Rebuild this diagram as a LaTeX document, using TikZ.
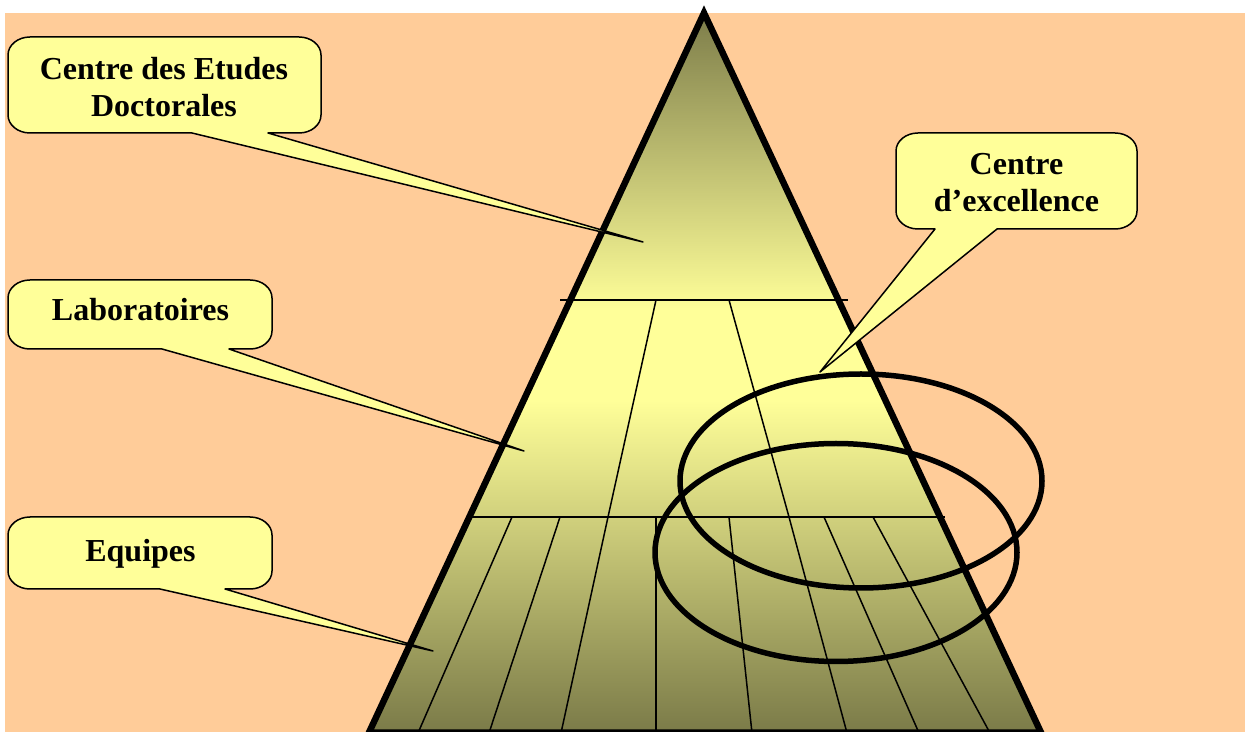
\documentclass[tikz,border=0pt]{standalone}
\usepackage{fontspec}
\setmainfont{Liberation Serif}
\definecolor{peach}{RGB}{255,204,153}
\definecolor{pyrdark}{RGB}{122,122,72}
\definecolor{pyrlight}{RGB}{255,255,153}
\definecolor{callfill}{RGB}{255,255,153}
\tikzset{
  callbox/.style={draw=black, line width=1.5pt, fill=callfill, line join=round},
  lbl/.style={font=\fontsize{32}{37}\selectfont\bfseries, align=center, inner sep=0pt},
  pyredge/.style={line width=6.5pt, line join=miter},
  divline/.style={line width=1.5pt},
  ring/.style={line width=5.5pt},
}
% #1 left x, #2 bottom y, #3 right x, #4 top y, #5 tail left x, #6 tail right x, #7 tip
\newcommand\callshape[7]{%
  \draw[callbox] (#5,#2) -- (#7) -- (#6,#2) -- ({#3-22},#2)
    arc[start angle=-90,end angle=0,x radius=22pt,y radius=18pt] -- (#3,{#4-18})
    arc[start angle=0,end angle=90,x radius=22pt,y radius=18pt] -- ({#1+22},#4)
    arc[start angle=90,end angle=180,x radius=22pt,y radius=18pt] -- (#1,{#2+18})
    arc[start angle=180,end angle=270,x radius=22pt,y radius=18pt] -- cycle;}
\begin{document}
\begin{tikzpicture}[x=1pt,y=1pt]
\useasboundingbox (0,0) rectangle (1245,731);
\fill[white] (0,0) rectangle (1245,731);
\fill[peach] (5,-1) rectangle (1246,718);
% pyramid corners
\coordinate (apex) at (704,718);
\coordinate (bl) at (369,-1.5);
\coordinate (br) at (1041,-1.5);
% pyramid fill
\begin{scope}
  \clip (apex) -- (bl) -- (br) -- cycle;
  \shade[top color=pyrdark, bottom color=pyrlight] (350,420) rectangle (1060,725);
  \fill[pyrlight] (350,330) rectangle (1060,421);
  \shade[top color=pyrlight, bottom color=pyrdark] (350,-3) rectangle (1060,331);
\end{scope}
% level lines
\draw[divline] (560,431) -- (848,431);
\draw[divline] (466,214) -- (945,214);
% laboratory divisions
\draw[divline] (656,431) -- (608,214);
\draw[divline] (729,431) -- (789,214);
% team divisions
\draw[divline] (512,214) -- (418,-2);
\draw[divline] (560,214) -- (489,-2);
\draw[divline] (608,214) -- (561,-2);
\draw[divline] (656,214) -- (656,-2);
\draw[divline] (729,214) -- (752,-2);
\draw[divline] (789,214) -- (847,-2);
\draw[divline] (824,214) -- (919,-2);
\draw[divline] (873,214) -- (990,-2);
% pyramid outline
\draw[pyredge] (apex) -- (bl) -- (br) -- cycle;
% callout tips
\coordinate (tipA) at (643,489);
\coordinate (tipB) at (524,280);
\coordinate (tipC) at (433,80);
\coordinate (tipD) at (820,359);
% callouts
\callshape{8}{598}{321}{694}{192}{268}{tipA}
\callshape{8}{382}{272}{451}{162}{229}{tipB}
\callshape{8}{142}{272}{214}{160}{225}{tipC}
\callshape{896}{502}{1137}{598}{935}{997}{tipD}
\node[lbl] (cde) at (164,643.5) {Centre des Etudes\\Doctorales};
\node[lbl] (lab) at (140.5,421.8) {Laboratoires};
\node[lbl] (equ) at (140.5,177) {Equipes};
\node[lbl] (exc) at (1016.5,548) {Centre\\d’excellence};
% ellipses
\draw[ring] (861,250) ellipse[x radius=181pt, y radius=107pt];
\draw[ring] (836,178.5) ellipse[x radius=181pt, y radius=109pt];
\end{tikzpicture}
\end{document}
